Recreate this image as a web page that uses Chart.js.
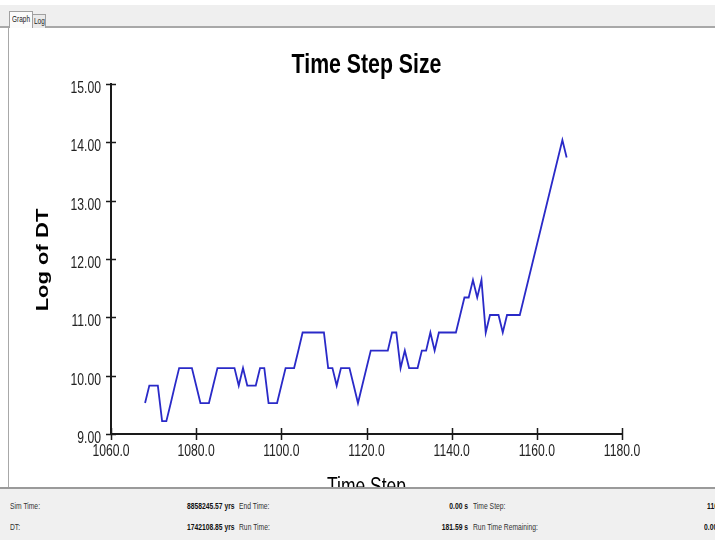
<!DOCTYPE html>
<html>
<head>
<meta charset="utf-8">
<script src="https://cdn.jsdelivr.net/npm/chart.js@4"></script>
<style>
  html, body { margin: 0; padding: 0; background: #fff; }
  body { width: 715px; height: 540px; position: relative; overflow: hidden; font-family: 'Liberation Sans', Arial, sans-serif; }
  #chart { position: absolute; left: 0; top: 0; }
  .tabstrip { position: absolute; left: 0; top: 5px; width: 715px; height: 21px; background: #efefef; border-bottom: 1px solid #f8f8f8; }
  .tabline { position: absolute; left: 0; top: 26px; width: 715px; height: 2px; background: #a8a8a8; }
  .tab { position: absolute; font-size: 9px; color: #222; border: 1px solid #a0a0a0; border-bottom: none; overflow: hidden; }
  .tab span { position: absolute; left: 2px; white-space: nowrap; transform: scaleX(0.72); transform-origin: left center; }
  .tab.active { left: 9px; top: 11px; width: 22px; height: 16px; line-height: 14px; background: #fbfbfb; z-index: 2; }
  .tab.other { left: 31px; top: 14px; width: 13px; height: 13px; line-height: 13px; background: #eaeaea; }
  .leftline { position: absolute; left: 8px; top: 28px; width: 1px; height: 460px; background: #a8a8a8; }
  .status { position: absolute; left: 0; top: 487px; width: 715px; height: 53px; background: #f0f0f0; border-top: 2px solid #9a9a9a; font-size: 9px; color: #333; }
  .status span { position: absolute; white-space: nowrap; transform: scaleX(0.75); transform-origin: left center; }
  .status .v { font-weight: bold; color: #111; transform-origin: right center; }
  .status .v.l { transform-origin: left center; }
</style>
</head>
<body>
<canvas id="chart" width="715" height="540"></canvas>
<div class="tabstrip"></div>
<div class="tabline"></div>
<div class="tab active"><span>Graph</span></div>
<div class="tab other"><span>Log</span></div>
<div class="leftline"></div>
<div class="status">
  <span style="left:10px; top:12px;">Sim Time:</span>
  <span class="v" style="right:480px; top:12px;">8858245.57 yrs</span>
  <span style="left:239px; top:12px;">End Time:</span>
  <span class="v" style="right:247px; top:12px;">0.00 s</span>
  <span style="left:473px; top:12px;">Time Step:</span>
  <span class="v l" style="left:707px; top:12px;">1167</span>
  <span style="left:10px; top:33px;">DT:</span>
  <span class="v" style="right:480px; top:33px;">1742108.85 yrs</span>
  <span style="left:239px; top:33px;">Run Time:</span>
  <span class="v" style="right:247px; top:33px;">181.59 s</span>
  <span style="left:473px; top:33px;">Run Time Remaining:</span>
  <span class="v l" style="left:704px; top:33px;">0.00 s</span>
</div>
<script>
// Time step index and log of DT
const timeSteps = [
  1068, 1069, 1070, 1071, 1072, 1073, 1074, 1075, 1076, 1077,
  1078, 1079, 1080, 1081, 1082, 1083, 1084, 1085, 1086, 1087,
  1088, 1089, 1090, 1091, 1092, 1093, 1094, 1095, 1096, 1097,
  1098, 1099, 1100, 1101, 1102, 1103, 1104, 1105, 1106, 1107,
  1108, 1109, 1110, 1111, 1112, 1113, 1114, 1115, 1116, 1117,
  1118, 1119, 1120, 1121, 1122, 1123, 1124, 1125, 1126, 1127,
  1128, 1129, 1130, 1131, 1132, 1133, 1134, 1135, 1136, 1137,
  1138, 1139, 1140, 1141, 1142, 1143, 1144, 1145, 1146, 1147,
  1148, 1149, 1150, 1151, 1152, 1153, 1154, 1155, 1156, 1157,
  1158, 1159, 1160, 1161, 1162, 1163, 1164, 1165, 1166, 1167
];
const logDT = [
  9.53, 9.83, 9.83, 9.83, 9.22, 9.22, 9.52, 9.83, 10.13, 10.13,
  10.13, 10.13, 9.83, 9.53, 9.53, 9.53, 9.83, 10.13, 10.13, 10.13,
  10.13, 10.13, 9.83, 10.13, 9.83, 9.83, 9.83, 10.13, 10.13, 9.53,
  9.53, 9.53, 9.83, 10.13, 10.13, 10.13, 10.43, 10.74, 10.74, 10.74,
  10.74, 10.74, 10.74, 10.13, 10.13, 9.83, 10.13, 10.13, 10.13, 9.83,
  9.53, 9.83, 10.13, 10.43, 10.43, 10.43, 10.43, 10.43, 10.74, 10.74,
  10.13, 10.43, 10.13, 10.13, 10.13, 10.43, 10.43, 10.74, 10.43, 10.74,
  10.74, 10.74, 10.74, 10.74, 11.04, 11.34, 11.34, 11.64, 11.34, 11.64,
  10.74, 11.04, 11.04, 11.04, 10.74, 11.04, 11.04, 11.04, 11.04, 11.34,
  11.64, 11.94, 12.24, 12.54, 12.84, 13.14, 13.44, 13.74, 14.04, 13.74
];
const xRange = [1060, 1180];
const xStep = 20;
const yRange = [9, 15];
const yStep = 1;

const chartTitle = 'Time Step Size';
const xTitle = 'Time Step';
const yTitle = 'Log of DT';

// the source screenshot is squeezed sideways, so all text is drawn narrowed
const squeeze = 0.76;
const fontFamily = "'Liberation Sans', Arial, sans-serif";

function drawNarrow(ctx, text, x, y, font, align, sx) {
    ctx.save();
    ctx.font = font;
    ctx.textAlign = align;
    ctx.textBaseline = 'alphabetic';
    ctx.translate(x, y);
    ctx.scale(sx, 1);
    ctx.fillText(text, 0, 0);
    ctx.restore();
}

// tick marks crossing the axis lines, plus narrowed labels and titles
const axisDecor = {
    id: 'axisDecor',
    afterDraw(chart) {
        const ctx = chart.ctx;
        const xs = chart.scales.x, ys = chart.scales.y;
        const area = chart.chartArea;
        ctx.save();
        ctx.strokeStyle = '#1a1a1a';
        ctx.lineWidth = 1.5;
        ctx.beginPath();
        xs.ticks.forEach((t, i) => {
            const px = Math.round(xs.getPixelForTick(i)) + 0.5;
            ctx.moveTo(px, area.bottom - 6);
            ctx.lineTo(px, area.bottom + 6);
        });
        ys.ticks.forEach((t, i) => {
            const py = Math.round(ys.getPixelForTick(i)) + 0.5;
            ctx.moveTo(area.left - 5, py);
            ctx.lineTo(area.left + 5, py);
        });
        ctx.stroke();

        ctx.fillStyle = '#222';
        const tickFont = '16px ' + fontFamily;
        xs.ticks.forEach((t, i) => {
            drawNarrow(ctx, t.value.toFixed(1), xs.getPixelForTick(i), area.bottom + 22, tickFont, 'center', squeeze);
        });
        ys.ticks.forEach((t, i) => {
            drawNarrow(ctx, t.value.toFixed(2), area.left - 10, ys.getPixelForTick(i) + 9, tickFont, 'right', squeeze);
        });

        ctx.fillStyle = '#000';
        const midX = (area.left + area.right) / 2;
        drawNarrow(ctx, chartTitle, midX, 73, 'bold 28px ' + fontFamily, 'center', squeeze);
        drawNarrow(ctx, xTitle, midX, area.bottom + 60, '23px ' + fontFamily, 'center', squeeze);

        // rotated y title: length runs up the page, glyph height is narrowed
        ctx.save();
        ctx.font = 'bold 22px ' + fontFamily;
        ctx.textAlign = 'center';
        ctx.textBaseline = 'alphabetic';
        ctx.translate(48, (area.top + area.bottom) / 2 + 1);
        ctx.scale(squeeze, 1);
        ctx.rotate(-Math.PI / 2);
        ctx.fillText(yTitle, 0, 0);
        ctx.restore();
        ctx.restore();
    }
};

new Chart(document.getElementById('chart'), {
    type: 'line',
    data: {
        datasets: [{
            data: timeSteps.map((t, i) => ({ x: t, y: logDT[i] })),
            borderColor: '#2a2ac8',
            borderWidth: 1.8,
            pointRadius: 0,
            tension: 0,
            fill: false
        }]
    },
    options: {
        responsive: false,
        animation: false,
        layout: { padding: { left: 31, right: 93, top: 84, bottom: 45 } },
        plugins: {
            legend: { display: false },
            tooltip: { enabled: false },
            title: { display: false }
        },
        scales: {
            x: {
                type: 'linear',
                min: xRange[0],
                max: xRange[1],
                ticks: { stepSize: xStep, color: 'rgba(0,0,0,0)', maxRotation: 0 },
                grid: { drawOnChartArea: false, color: 'rgba(0,0,0,0)', tickLength: 6 },
                border: { color: '#1a1a1a', width: 2 },
                afterFit: s => { s.height = 61; }
            },
            y: {
                min: yRange[0],
                max: yRange[1],
                ticks: { stepSize: yStep, color: 'rgba(0,0,0,0)' },
                grid: { drawOnChartArea: false, color: 'rgba(0,0,0,0)', tickLength: 5 },
                border: { color: '#1a1a1a', width: 2 },
                afterFit: s => { s.width = 80; }
            }
        }
    },
    plugins: [axisDecor]
});
</script>
</body>
</html>
